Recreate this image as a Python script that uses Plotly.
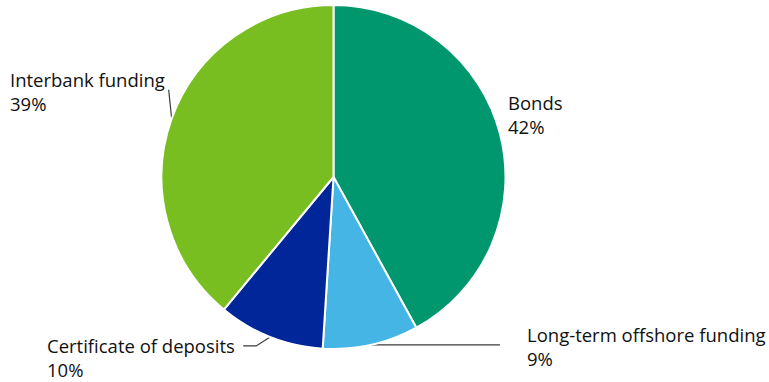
import math
import plotly.graph_objects as go

# Funding mix
categories = ["Bonds", "Long-term offshore funding", "Certificate of deposits", "Interbank funding"]
shares = [42, 9, 10, 39]
colors = ["#00976F", "#45B5E6", "#00269A", "#78BE21"]

W, H = 769, 382
CX, CY, R = 333.5, 177.0, 172.0  # pie centre and radius in pixels

# Label placement: (text left x, text centre y) and leader-line knees (offsets from slice edge)
label_pos = {
    "Bonds": (506, 114),
    "Long-term offshore funding": (525, 346),
    "Certificate of deposits": (45, 357),
    "Interbank funding": (8, 91),
}
leader_knees = {
    "Bonds": [],
    "Long-term offshore funding": [(129, 0)],
    "Certificate of deposits": [(-14, 9), (-27, 9)],
    "Interbank funding": [(-3, -29)],
}

FONT = "Open Sans, Noto Sans, sans-serif"

fig = go.Figure()

fig.add_trace(go.Pie(
    labels=categories,
    values=shares,
    sort=False,
    direction="clockwise",
    rotation=0,
    marker=dict(colors=colors, line=dict(color="white", width=2)),
    textinfo="none",
    hoverinfo="label+percent",
    showlegend=False,
    domain=dict(x=[(CX - R) / W, (CX + R) / W], y=[(H - CY - R) / H, (H - CY + R) / H]),
))

total = sum(shares)
start = 0.0
annotations = []
for cat, val in zip(categories, shares):
    span = 360.0 * val / total
    mid = math.radians(start + span / 2)
    start += span
    ex = CX + R * math.sin(mid)
    ey = CY - R * math.cos(mid)
    knees = leader_knees[cat]
    if knees:
        xs = [ex] + [ex + dx for dx, _ in knees]
        ys = [ey] + [ey + dy for _, dy in knees]
        fig.add_trace(go.Scatter(
            x=xs, y=ys, mode="lines",
            line=dict(color="#3a3a3a", width=1.2),
            hoverinfo="skip", showlegend=False,
        ))
    lx, ly = label_pos[cat]
    pct = round(100 * val / total)
    annotations.append(dict(
        x=lx, y=ly, xref="x", yref="y",
        text=f"{cat}<br>{pct}%",
        showarrow=False, xanchor="left", yanchor="middle", align="left",
        font=dict(family=FONT, size=18.5, color="#111111"),
    ))

fig.update_layout(
    width=W, height=H,
    margin=dict(l=0, r=0, t=0, b=0),
    paper_bgcolor="white", plot_bgcolor="rgba(0,0,0,0)",
    xaxis=dict(range=[0, W], visible=False, fixedrange=True),
    yaxis=dict(range=[H, 0], visible=False, fixedrange=True),
    annotations=annotations,
)

fig.write_html("out.html")
